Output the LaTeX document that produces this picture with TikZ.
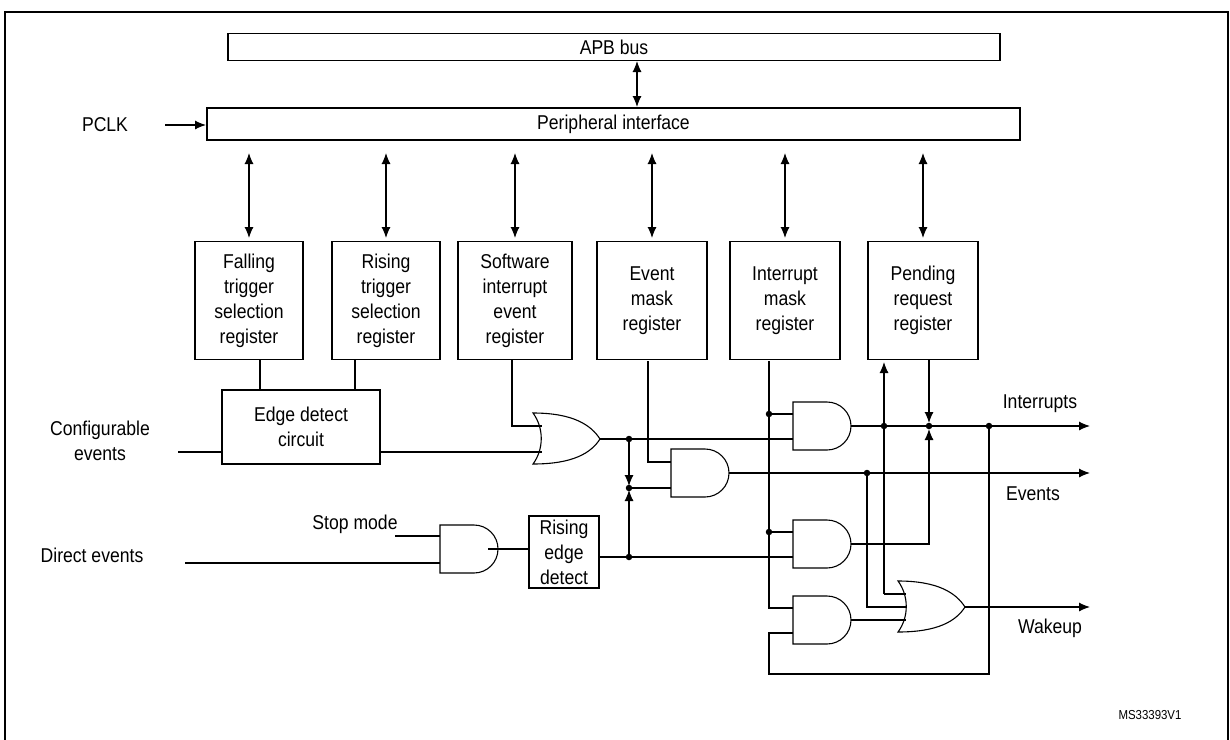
\documentclass[tikz,border=0pt]{standalone}
\usepackage{fontspec}
\setmainfont{Liberation Sans}[FakeStretch=0.88]
\usetikzlibrary{arrows.meta}
\begin{document}
\begin{tikzpicture}[x=1pt,y=-1pt,line width=1.1pt,
  txt/.style={font=\fontsize{20}{25}\selectfont,align=center,inner sep=0pt},
  reg/.style={draw,line width=1.4pt,txt},
  arr/.style={-{Latex[length=11pt,width=9pt]}},
  dbl/.style={{Latex[length=11pt,width=9pt]}-{Latex[length=11pt,width=9pt]}},
  dot/.style={circle,fill,inner sep=0pt,minimum size=6.5pt},
  andg/.pic={\draw (0,0) -- (34,0) arc[start angle=-90,end angle=90,radius=24] -- (0,48) -- cycle;},
  org/.pic={\draw (0,0) .. controls (40,0) and (58,12) .. (67,26) .. controls (58,40) and (40,51) .. (0,51) .. controls (11,36) and (11,15) .. (0,0) -- cycle;}]
\useasboundingbox (0,0) rectangle (1230,739);
\draw[line width=1.4pt] (5,12) rectangle (1228,745);
% buses
\node[reg,minimum width=772pt,minimum height=27pt] (apb) at (614,47) {APB bus};
\node[reg,minimum width=813pt,minimum height=32pt] (pi) at (613.5,124) {Peripheral interface};
\draw[dbl] (637,61) -- (637,107);
\node[txt] (pclk) at (105,125) {PCLK};
\draw[arr] (165,125) -- (206,125);
% registers
\foreach \n/\x/\w/\t in {fr/249/108/{Falling\\trigger\\selection\\register},
  rr/386/108/{Rising\\trigger\\selection\\register},
  sw/515/114/{Software\\interrupt\\event\\register},
  em/652/110/{Event\\mask\\register},
  im/785/110/{Interrupt\\mask\\register},
  pr/923/110/{Pending\\request\\register}}{
  \node[reg,minimum width=\w pt,minimum height=118pt,anchor=north] (\n) at (\x,241) {\t};
  \draw[dbl] (\x,153) -- (\x,238);
}
% edge detect
\node[draw,txt,minimum width=158pt,minimum height=74pt] (ed) at (301,427) {Edge detect\\circuit};
\draw (260,359) -- (260,390) (355,359) -- (355,390);
\node[txt] (ce) at (100,441) {Configurable\\events};
\draw (178,452) -- (222,452);
% gates
\pic at (533,413) {org};
\pic at (671,449) {andg};
\pic at (793,402) {andg};
\pic at (793,520) {andg};
\pic at (793,596) {andg};
\pic at (440,525) {andg};
\pic at (898,581) {org};
% OR1 inputs
\draw (380,452) -- (542,452);
\draw (512,359) -- (512,426) -- (542,426);
% OR1 output
\draw (600,439) -- (793,439);
\node[dot] (j1) at (629,439) {};
\node[dot] (j2) at (629,488) {};
\node[dot] (j3) at (629,557) {};
\draw[arr] (629,439) -- (629,486);
\draw[arr] (629,557) -- (629,490);
\draw (629,488) -- (671,488);
\draw (648,361) -- (648,462) -- (671,462);
% events
\draw[arr] (729,473) -- (1090,473);
\node[dot] (j4) at (867,473) {};
\draw (867,473) -- (867,607) -- (906,607);
% rising edge detect
\node[txt] (sm) at (355,524) {Stop mode};
\draw (395,536) -- (440,536);
\node[txt] (de) at (92,555) {Direct events};
\draw (185,563) -- (440,563);
\node[draw,txt,minimum width=70pt,minimum height=72pt] (re) at (564,552) {Rising\\edge\\detect};
\draw (488,549) -- (529,549);
\draw (599,557) -- (793,557);
% interrupt mask
\draw (769,361) -- (769,608) -- (793,608);
\node[dot] (j5) at (769,414) {};
\node[dot] (j6) at (769,532) {};
\draw (769,414) -- (793,414) (769,532) -- (793,532);
% interrupts
\draw[arr] (851,426) -- (1090,426);
\node[dot] (j7) at (884,426) {};
\node[dot] (j8) at (929,426) {};
\node[dot] (j9) at (989,426) {};
\draw[arr] (884,594) -- (884,362);
\draw (884,594) -- (906,594);
\draw[arr] (929,360) -- (929,423);
\draw[arr] (851,544) -- (929,544) -- (929,429);
% feedback
\draw (989,426) -- (989,674) -- (769,674) -- (769,633) -- (793,633);
\draw (851,620) -- (906,620);
% wakeup
\draw[arr] (965,607) -- (1090,607);
\node[txt] (li) at (1040,404) {Interrupts};
\node[txt] (le) at (1033,494) {Events};
\node[txt] (lw) at (1050,628) {Wakeup};
\node[font=\fontsize{13}{15}\selectfont] (ms) at (1150,715) {MS33393V1};
\end{tikzpicture}
\end{document}
